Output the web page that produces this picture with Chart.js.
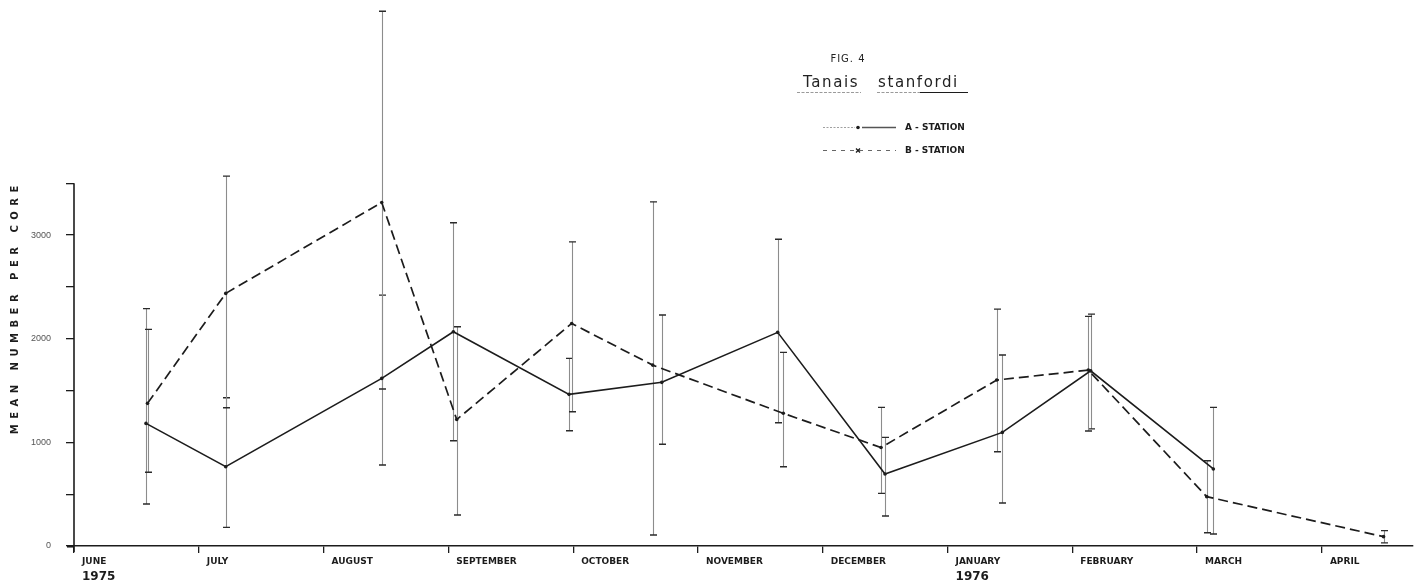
<!DOCTYPE html>
<html>
<head>
<meta charset="utf-8">
<title>Tanais stanfordi</title>
<script src="https://cdn.jsdelivr.net/npm/chart.js@4.4.0/dist/chart.umd.min.js"></script>
<style>
  html, body { margin: 0; padding: 0; background: #ffffff; }
  canvas { display: block; }
</style>
</head>
<body>
<canvas id="fig4" width="1424" height="586"></canvas>
<script>
// Month axis: 0 = start of June 1975, 1 = July, ...
const monthLabels = ['JUNE', 'JULY', 'AUGUST', 'SEPTEMBER', 'OCTOBER', 'NOVEMBER',
                     'DECEMBER', 'JANUARY', 'FEBRUARY', 'MARCH', 'APRIL'];
const yearLabels = ['1975', '1976'];
const yearMonthIndex = [0, 7];

const yTickValues = [0, 500, 1000, 1500, 2000, 2500, 3000, 3500];
const yLabelValues = [0, 1000, 2000, 3000];

// Station A: sampling time (months since 1 June 1975), mean and error-bar limits
const stationA_month = [0.577, 1.216, 2.466, 3.040, 3.967, 4.710, 5.639, 6.499, 7.439, 8.147, 9.130];
const stationA_mean  = [1183, 765, 1617, 2067, 1463, 1579, 2061, 695, 1096, 1690, 743];
const stationA_low   = [405, 180, 781, 1015, 1112, 981, 1189, 289, 415, 1130, 116];
const stationA_high  = [2290, 1430, 2420, 3118, 1810, 2228, 2960, 1048, 1842, 2237, 1337];

// Station B
const stationB_month = [0.589, 1.216, 2.466, 3.067, 3.988, 4.637, 5.684, 6.467, 7.394, 8.128, 9.077, 10.494];
const stationB_mean  = [1376, 2437, 3314, 1220, 2147, 1745, 1280, 950, 1601, 1697, 476, 90];
const stationB_low   = [711, 1334, 1514, 299, 1295, 106, 765, 508, 909, 1110, 128, 30];
const stationB_high  = [2090, 3568, 5159, 2115, 2934, 3320, 1868, 1337, 2285, 2215, 823, 148];

const INK = '#1c1c1c';

const toPoints = (months, values) => months.map((m, i) => ({ x: m, y: values[i] }));

// Vertical error bars with end caps, drawn beneath the lines
const errorBars = {
  id: 'errorBars',
  beforeDatasetsDraw(chart) {
    const { ctx, scales: { x, y } } = chart;
    chart.data.datasets.forEach((ds, di) => {
      if (!ds.errorLow || !chart.isDatasetVisible(di)) return;
      ctx.save();
      ds.data.forEach((pt, i) => {
        const px = Math.round(x.getPixelForValue(pt.x)) + 0.5;
        const lo = y.getPixelForValue(ds.errorLow[i]);
        const hi = y.getPixelForValue(ds.errorHigh[i]);
        ctx.strokeStyle = '#8c8c8c';
        ctx.lineWidth = 1.1;
        ctx.beginPath();
        ctx.moveTo(px, lo);
        ctx.lineTo(px, hi);
        ctx.stroke();
        ctx.strokeStyle = '#2a2a2a';
        ctx.lineWidth = 1.4;
        ctx.beginPath();
        ctx.moveTo(px - 3.5, lo); ctx.lineTo(px + 3.5, lo);
        ctx.moveTo(px - 3.5, hi); ctx.lineTo(px + 3.5, hi);
        ctx.stroke();
      });
      ctx.restore();
    });
  }
};

// Axis line, axis title, year labels, figure heading and key
const decorations = {
  id: 'decorations',
  afterDraw(chart) {
    const { ctx, chartArea, scales: { x, y } } = chart;
    ctx.save();

    // y axis line, stopping at the last tick
    ctx.strokeStyle = INK;
    ctx.lineWidth = 1.6;
    ctx.beginPath();
    ctx.moveTo(chartArea.left, y.getPixelForValue(yTickValues[yTickValues.length - 1]));
    ctx.lineTo(chartArea.left, chartArea.bottom + 6);
    ctx.stroke();
    // short extension of the x axis to the left of the origin
    ctx.beginPath();
    ctx.moveTo(chartArea.left - 7, chartArea.bottom + 0.75);
    ctx.lineTo(chartArea.left, chartArea.bottom + 0.75);
    ctx.stroke();

    // y axis title, widely letter-spaced
    const yTitle = 'MEAN NUMBER PER CORE';
    ctx.font = 'bold 10px "DejaVu Sans"';
    const baseW = ctx.measureText(yTitle).width;
    const spacing = (254 - baseW) / yTitle.length;
    ctx.letterSpacing = spacing.toFixed(2) + 'px';
    ctx.fillStyle = INK;
    ctx.textAlign = 'center';
    ctx.textBaseline = 'middle';
    ctx.translate(15, 310);
    ctx.rotate(-Math.PI / 2);
    ctx.fillText(yTitle, spacing / 2, 0);
    ctx.setTransform(1, 0, 0, 1, 0, 0);
    ctx.letterSpacing = '0px';

    // year labels under the month names
    ctx.font = 'bold 12px "DejaVu Sans"';
    ctx.textAlign = 'left';
    ctx.textBaseline = 'middle';
    yearLabels.forEach((t, i) => {
      ctx.fillText(t, x.getPixelForValue(yearMonthIndex[i]) + 8, 577);
    });

    // figure heading
    ctx.fillStyle = '#222';
    ctx.font = '10px "DejaVu Sans"';
    ctx.letterSpacing = '1px';
    ctx.textAlign = 'center';
    ctx.textBaseline = 'alphabetic';
    ctx.fillText('FIG. 4', 848, 62);

    ctx.font = '15px "DejaVu Sans"';
    ctx.letterSpacing = '1.6px';
    ctx.textAlign = 'left';
    ctx.fillText('Tanais', 803, 87);
    ctx.fillText('stanfordi', 878, 87);
    ctx.letterSpacing = '0px';

    // underlines
    ctx.lineWidth = 1.2;
    ctx.strokeStyle = '#9a9a9a';
    ctx.setLineDash([3, 1.5]);
    ctx.beginPath();
    ctx.moveTo(797, 92.5); ctx.lineTo(861, 92.5);
    ctx.moveTo(877, 92.5); ctx.lineTo(920, 92.5);
    ctx.stroke();
    ctx.setLineDash([]);
    ctx.strokeStyle = INK;
    ctx.beginPath();
    ctx.moveTo(920, 92.5); ctx.lineTo(968, 92.5);
    ctx.stroke();

    // key
    const keyY = [127, 150];
    const keyText = ['A - STATION', 'B - STATION'];
    // station A sample: faint dotted lead-in, marker, solid
    ctx.strokeStyle = '#a0a0a0';
    ctx.lineWidth = 1.2;
    ctx.setLineDash([2, 1.5]);
    ctx.beginPath(); ctx.moveTo(823, keyY[0] + 0.5); ctx.lineTo(855, keyY[0] + 0.5); ctx.stroke();
    ctx.setLineDash([]);
    ctx.strokeStyle = '#555';
    ctx.lineWidth = 1.4;
    ctx.beginPath(); ctx.moveTo(862, keyY[0] + 0.5); ctx.lineTo(896, keyY[0] + 0.5); ctx.stroke();
    ctx.fillStyle = INK;
    ctx.beginPath(); ctx.arc(858, keyY[0] + 0.5, 1.8, 0, Math.PI * 2); ctx.fill();
    // station B sample: dashed with a cross
    ctx.strokeStyle = '#666';
    ctx.lineWidth = 1.2;
    ctx.setLineDash([4, 5]);
    ctx.beginPath(); ctx.moveTo(823, keyY[1] + 0.5); ctx.lineTo(896, keyY[1] + 0.5); ctx.stroke();
    ctx.setLineDash([]);
    ctx.strokeStyle = INK;
    ctx.lineWidth = 1.3;
    ctx.beginPath();
    ctx.moveTo(856, keyY[1] - 1.5); ctx.lineTo(860, keyY[1] + 2.5);
    ctx.moveTo(860, keyY[1] - 1.5); ctx.lineTo(856, keyY[1] + 2.5);
    ctx.stroke();

    ctx.fillStyle = INK;
    ctx.font = 'bold 9px "DejaVu Sans"';
    ctx.textAlign = 'left';
    ctx.textBaseline = 'middle';
    keyText.forEach((t, i) => ctx.fillText(t, 905, keyY[i] + 1));

    ctx.restore();
  }
};

new Chart(document.getElementById('fig4'), {
  type: 'line',
  data: {
    datasets: [
      {
        label: 'A - STATION',
        data: toPoints(stationA_month, stationA_mean),
        errorLow: stationA_low,
        errorHigh: stationA_high,
        borderColor: INK,
        backgroundColor: INK,
        borderWidth: 1.6,
        pointRadius: 1.8,
        pointBorderWidth: 0,
        tension: 0,
        fill: false
      },
      {
        label: 'B - STATION',
        data: toPoints(stationB_month, stationB_mean),
        errorLow: stationB_low,
        errorHigh: stationB_high,
        borderColor: INK,
        backgroundColor: INK,
        borderWidth: 1.7,
        borderDash: [10, 5],
        pointRadius: 1.8,
        pointBorderWidth: 0,
        tension: 0,
        fill: false
      }
    ]
  },
  options: {
    responsive: false,
    animation: false,
    devicePixelRatio: 1,
    layout: { padding: { top: 7, right: 11, bottom: 0, left: 0 } },
    plugins: {
      legend: { display: false },
      title: { display: false },
      tooltip: { enabled: false }
    },
    scales: {
      x: {
        type: 'linear',
        min: 0,
        max: 10.73,
        afterBuildTicks: (s) => { s.ticks = monthLabels.map((_, i) => ({ value: i })); },
        afterFit: (s) => { s.height = 40; s.paddingLeft = 0; s.paddingRight = 0; },
        ticks: {
          callback: (v) => monthLabels[v] ?? '',
          align: 'start',
          labelOffset: 8,
          padding: 3,
          autoSkip: false,
          maxRotation: 0,
          color: INK,
          font: { family: 'DejaVu Sans', weight: 'bold', size: 9 }
        },
        grid: { drawOnChartArea: false, tickLength: 7, color: INK, lineWidth: 1.3 },
        border: { display: true, color: INK, width: 1.6 }
      },
      y: {
        min: 0,
        max: 5200,
        afterBuildTicks: (s) => { s.ticks = yTickValues.map((v) => ({ value: v })); },
        afterFit: (s) => { s.width = 74; s.paddingTop = 0; s.paddingBottom = 0; },
        ticks: {
          callback: (v) => (yLabelValues.includes(v) ? String(v) : ''),
          padding: 15,
          color: '#555',
          font: { family: 'Liberation Sans', size: 9 }
        },
        grid: { drawOnChartArea: false, tickLength: 8, color: INK, lineWidth: 1.3 },
        border: { display: false }
      }
    }
  },
  plugins: [errorBars, decorations]
});
</script>
</body>
</html>
